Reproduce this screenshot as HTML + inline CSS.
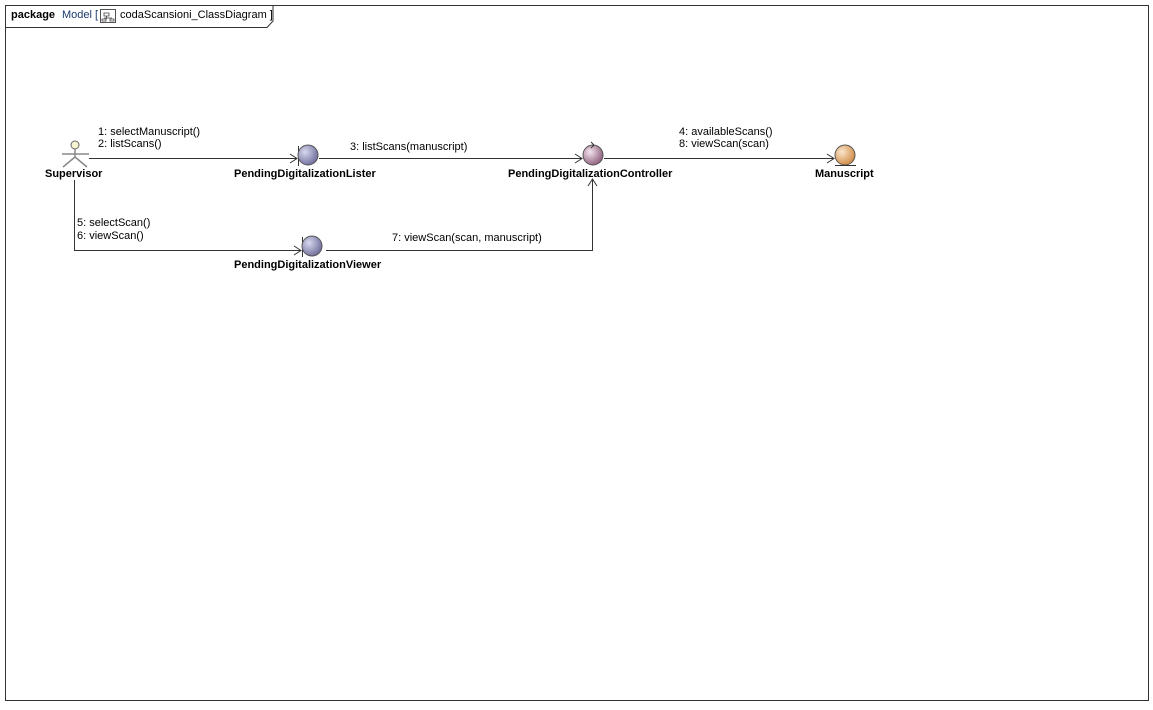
<!DOCTYPE html>
<html><head><style>
body{margin:0;background:#fff;}
svg text{font-family:"Liberation Sans",Arial,sans-serif;font-size:11px;fill:#000;}
.b{font-weight:bold;}
</style></head><body>
<svg width="1153" height="705" xmlns="http://www.w3.org/2000/svg">
<defs>
<radialGradient id="gb" cx="35%" cy="35%" r="70%"><stop offset="0" stop-color="#d8d8ee"/><stop offset="1" stop-color="#6e6e9c"/></radialGradient>
<radialGradient id="gc" cx="35%" cy="35%" r="70%"><stop offset="0" stop-color="#f4e4ee"/><stop offset="1" stop-color="#8e5e7c"/></radialGradient>
<radialGradient id="ge" cx="35%" cy="35%" r="70%"><stop offset="0" stop-color="#fbe6cc"/><stop offset="1" stop-color="#d08a44"/></radialGradient>
</defs>
<rect x="5.5" y="5.5" width="1143" height="695" fill="#fff" stroke="#333"/>
<path d="M5.5 27.5 H267 L273 21 V5.5" fill="none" stroke="#333"/>
<text x="11" y="18" class="b">package</text>
<text x="62" y="18" fill="#1a3a6a" style="fill:#1a3a6a">Model [</text>
<rect x="100.5" y="9.5" width="15" height="13" fill="#fff" stroke="#555"/>
<path d="M104 13h5v3h-5zM102 19h4v2h-4zM110 19h4v2h-4zM106.5 16v3M104 18h8" fill="none" stroke="#444" stroke-width="0.8"/>
<text x="120" y="18">codaScansioni_ClassDiagram ]</text>

<!-- actor -->
<circle cx="75" cy="145" r="4" fill="#f6f4d0" stroke="#666"/>
<path d="M75 149v8M62 154h27M75 157l-12 10M75 157l12 10" stroke="#888" stroke-width="1.5" fill="none"/>
<text x="45" y="177" class="b">Supervisor</text>

<!-- lines -->
<g stroke="#333" fill="none">
<path d="M89 158.5H297"/><path d="M290 154l7 4.5-7 4.5"/>
<path d="M319 158.5H582"/><path d="M575 154l7 4.5-7 4.5"/>
<path d="M604 158.5H834"/><path d="M827 154l7 4.5-7 4.5"/>
<path d="M74.5 180V250.5H301"/><path d="M294 246l7 4.5-7 4.5"/>
<path d="M326 250.5H592.5V179"/><path d="M588 186l4.5-7 4.5 7"/>
</g>

<!-- Lister -->
<line x1="298.5" y1="146" x2="298.5" y2="166" stroke="#333"/>
<line x1="298" y1="156" x2="298" y2="156" stroke="#333"/>
<circle cx="308" cy="155" r="10" fill="url(#gb)" stroke="#555"/>
<text x="234" y="177" class="b">PendingDigitalizationLister</text>
<!-- Viewer -->
<line x1="302.5" y1="237" x2="302.5" y2="257" stroke="#333"/>
<circle cx="312" cy="246" r="10" fill="url(#gb)" stroke="#555"/>
<text x="234" y="268" class="b">PendingDigitalizationViewer</text>
<!-- Controller -->
<circle cx="593" cy="155" r="10" fill="url(#gc)" stroke="#555"/>
<path d="M594 145l-3-3M594 145l-3 3" stroke="#333" fill="none"/>
<text x="508" y="177" class="b">PendingDigitalizationController</text>
<!-- Manuscript -->
<circle cx="845" cy="155" r="10" fill="url(#ge)" stroke="#555"/>
<line x1="835" y1="165.5" x2="856" y2="165.5" stroke="#333"/>
<text x="815" y="177" class="b">Manuscript</text>

<text x="98" y="135">1: selectManuscript()</text>
<text x="98" y="147">2: listScans()</text>
<text x="350" y="150">3: listScans(manuscript)</text>
<text x="679" y="135">4: availableScans()</text>
<text x="679" y="147">8: viewScan(scan)</text>
<text x="77" y="226">5: selectScan()</text>
<text x="77" y="239">6: viewScan()</text>
<text x="392" y="241">7: viewScan(scan, manuscript)</text>
</svg>
</body></html>
